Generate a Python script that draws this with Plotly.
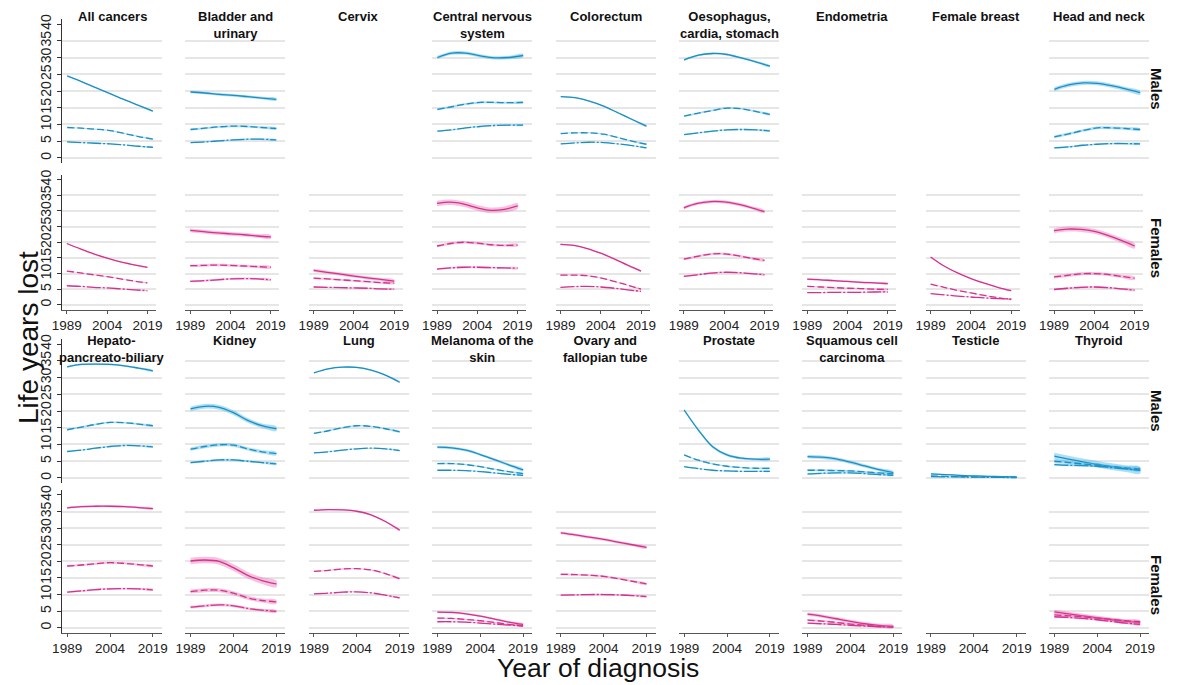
import plotly.graph_objects as go

# ---------------- data ----------------
years = [1989, 1994, 1999, 2004, 2009, 2014, 2019]
x_ticks = [1989, 2004, 2019]
y_ticks = [0, 5, 10, 15, 20, 25, 30, 35, 40]

cancers_top = ["All cancers", "Bladder and\nurinary", "Cervix", "Central nervous\nsystem", "Colorectum",
               "Oesophagus,\ncardia, stomach", "Endometria", "Female breast", "Head and neck"]
cancers_bottom = ["Hepato-\npancreato-biliary", "Kidney", "Lung", "Melanoma of the\nskin",
                  "Ovary and\nfallopian tube", "Prostate", "Squamous cell\ncarcinoma", "Testicle", "Thyroid"]

# Males: solid (top), dashed (middle), dash-dot (bottom) lines
male_solid = {
    "All cancers": [24.5, 22.8, 21.0, 19.2, 17.4, 15.7, 14.0],
    "Bladder and\nurinary": [19.7, 19.4, 19.0, 18.7, 18.3, 17.9, 17.5],
    "Central nervous\nsystem": [30.0, 31.3, 31.3, 30.5, 29.9, 30.0, 30.6],
    "Colorectum": [18.3, 18.0, 17.0, 15.5, 13.5, 11.5, 9.5],
    "Oesophagus,\ncardia, stomach": [29.3, 30.7, 31.2, 30.9, 29.9, 28.7, 27.4],
    "Head and neck": [20.5, 21.8, 22.4, 22.3, 21.6, 20.6, 19.5],
    "Hepato-\npancreato-biliary": [33.2, 33.9, 34.0, 33.9, 33.5, 32.8, 32.0],
    "Kidney": [20.6, 21.4, 21.1, 19.5, 17.2, 15.6, 14.7],
    "Lung": [31.4, 32.6, 33.1, 33.0, 32.2, 30.7, 28.6],
    "Melanoma of the\nskin": [9.2, 9.0, 8.3, 7.0, 5.5, 3.9, 2.4],
    "Prostate": [20.3, 14.3, 9.3, 6.9, 5.9, 5.6, 5.6],
    "Squamous cell\ncarcinoma": [6.4, 6.2, 5.7, 4.7, 3.6, 2.5, 1.6],
    "Testicle": [1.2, 1.0, 0.8, 0.6, 0.5, 0.4, 0.3],
    "Thyroid": [6.5, 5.6, 4.8, 4.1, 3.4, 2.8, 2.3],
}
male_dash = {
    "All cancers": [9.1, 8.9, 8.6, 8.2, 7.3, 6.4, 5.6],
    "Bladder and\nurinary": [8.5, 8.9, 9.3, 9.5, 9.4, 9.1, 8.8],
    "Central nervous\nsystem": [14.5, 15.3, 16.1, 16.6, 16.6, 16.5, 16.6],
    "Colorectum": [7.3, 7.5, 7.5, 7.1, 6.1, 5.0, 4.1],
    "Oesophagus,\ncardia, stomach": [12.5, 13.4, 14.2, 14.9, 14.7, 13.9, 13.0],
    "Head and neck": [6.3, 7.2, 8.2, 9.0, 9.0, 8.8, 8.5],
    "Hepato-\npancreato-biliary": [14.4, 15.2, 16.0, 16.6, 16.5, 16.1, 15.6],
    "Kidney": [8.6, 9.4, 9.9, 9.8, 8.7, 7.8, 7.3],
    "Lung": [13.3, 14.1, 15.0, 15.6, 15.4, 14.7, 13.8],
    "Melanoma of the\nskin": [4.3, 4.3, 4.0, 3.4, 2.6, 1.9, 1.3],
    "Prostate": [6.9, 5.3, 4.2, 3.5, 3.1, 2.9, 2.9],
    "Squamous cell\ncarcinoma": [2.3, 2.3, 2.2, 2.1, 1.8, 1.5, 1.2],
    "Testicle": [0.6, 0.5, 0.4, 0.35, 0.3, 0.25, 0.2],
    "Thyroid": [5.0, 4.6, 4.2, 3.8, 3.4, 3.0, 2.7],
}
male_dot = {
    "All cancers": [4.8, 4.6, 4.4, 4.2, 3.9, 3.5, 3.2],
    "Bladder and\nurinary": [4.6, 4.8, 5.1, 5.4, 5.6, 5.6, 5.4],
    "Central nervous\nsystem": [8.0, 8.4, 9.0, 9.4, 9.7, 9.8, 9.8],
    "Colorectum": [4.2, 4.5, 4.7, 4.6, 4.2, 3.7, 3.0],
    "Oesophagus,\ncardia, stomach": [7.0, 7.5, 8.0, 8.4, 8.5, 8.4, 8.1],
    "Head and neck": [3.0, 3.3, 3.8, 4.1, 4.3, 4.3, 4.2],
    "Hepato-\npancreato-biliary": [7.9, 8.3, 8.9, 9.4, 9.7, 9.6, 9.3],
    "Kidney": [4.6, 5.0, 5.4, 5.4, 5.0, 4.6, 4.2],
    "Lung": [7.5, 7.8, 8.3, 8.7, 8.9, 8.7, 8.2],
    "Melanoma of the\nskin": [2.3, 2.3, 2.2, 1.9, 1.5, 1.1, 0.8],
    "Prostate": [3.4, 2.8, 2.3, 2.1, 2.0, 2.0, 2.0],
    "Squamous cell\ncarcinoma": [1.2, 1.4, 1.5, 1.5, 1.3, 1.0, 0.8],
    "Testicle": [0.4, 0.35, 0.3, 0.25, 0.2, 0.15, 0.1],
    "Thyroid": [4.0, 3.8, 3.7, 3.5, 3.1, 2.7, 2.3],
}
female_solid = {
    "All cancers": [19.6, 17.9, 16.3, 14.9, 13.7, 12.8, 12.0],
    "Bladder and\nurinary": [23.8, 23.4, 23.0, 22.7, 22.4, 22.0, 21.7],
    "Cervix": [11.0, 10.4, 9.8, 9.2, 8.6, 8.1, 7.6],
    "Central nervous\nsystem": [32.4, 32.8, 32.2, 31.0, 30.2, 30.5, 31.6],
    "Colorectum": [19.3, 19.0, 18.0, 16.5, 14.7, 12.7, 10.8],
    "Oesophagus,\ncardia, stomach": [31.0, 32.4, 33.0, 32.9, 32.2, 31.1, 29.8],
    "Endometria": [8.2, 8.0, 7.7, 7.5, 7.2, 7.0, 6.8],
    "Female breast": [15.3, 12.4, 10.2, 8.4, 6.9, 5.6, 4.5],
    "Head and neck": [23.7, 24.2, 24.1, 23.5, 22.2, 20.6, 18.8],
    "Hepato-\npancreato-biliary": [36.1, 36.5, 36.6, 36.6, 36.5, 36.2, 35.9],
    "Kidney": [20.1, 20.4, 20.0, 18.1, 15.8, 14.2, 13.2],
    "Lung": [35.4, 35.6, 35.5, 35.1, 34.0, 32.0, 29.4],
    "Melanoma of the\nskin": [4.7, 4.6, 4.2, 3.5, 2.6, 1.7, 1.0],
    "Ovary and\nfallopian tube": [28.6, 28.0, 27.3, 26.6, 25.8, 25.0, 24.2],
    "Squamous cell\ncarcinoma": [4.1, 3.5, 2.7, 1.9, 1.2, 0.7, 0.4],
    "Thyroid": [4.8, 4.2, 3.6, 3.0, 2.4, 1.9, 1.5],
}
female_dash = {
    "All cancers": [10.8, 10.2, 9.6, 9.0, 8.3, 7.6, 7.0],
    "Bladder and\nurinary": [12.5, 12.6, 12.7, 12.6, 12.4, 12.2, 12.0],
    "Cervix": [8.5, 8.3, 8.0, 7.7, 7.4, 7.1, 6.9],
    "Central nervous\nsystem": [18.8, 19.6, 20.0, 19.7, 19.2, 19.0, 19.1],
    "Colorectum": [9.5, 9.5, 9.3, 8.6, 7.5, 6.3, 5.0],
    "Oesophagus,\ncardia, stomach": [14.6, 15.5, 16.2, 16.3, 15.7, 14.9, 14.2],
    "Endometria": [5.9, 5.7, 5.5, 5.3, 5.2, 5.0, 4.9],
    "Female breast": [6.6, 5.6, 4.6, 3.8, 3.0, 2.3, 1.7],
    "Head and neck": [8.9, 9.4, 9.9, 10.0, 9.7, 9.1, 8.5],
    "Hepato-\npancreato-biliary": [18.6, 18.9, 19.3, 19.6, 19.4, 19.0, 18.6],
    "Kidney": [10.9, 11.3, 11.3, 10.4, 9.0, 8.2, 7.8],
    "Lung": [17.0, 17.3, 17.7, 17.8, 17.4, 16.3, 14.8],
    "Melanoma of the\nskin": [2.9, 2.8, 2.5, 2.1, 1.6, 1.0, 0.6],
    "Ovary and\nfallopian tube": [16.1, 16.0, 15.8, 15.5, 14.8, 14.0, 13.2],
    "Squamous cell\ncarcinoma": [2.3, 2.0, 1.6, 1.1, 0.7, 0.4, 0.2],
    "Thyroid": [3.9, 3.6, 3.3, 2.9, 2.5, 2.1, 1.8],
}
female_dot = {
    "All cancers": [6.1, 5.9, 5.6, 5.4, 5.1, 4.8, 4.5],
    "Bladder and\nurinary": [7.5, 7.7, 8.0, 8.3, 8.4, 8.3, 8.0],
    "Cervix": [5.7, 5.6, 5.5, 5.4, 5.3, 5.1, 5.0],
    "Central nervous\nsystem": [11.4, 11.8, 12.0, 12.0, 11.9, 11.8, 11.7],
    "Colorectum": [5.6, 5.8, 5.9, 5.7, 5.3, 4.8, 4.3],
    "Oesophagus,\ncardia, stomach": [9.1, 9.6, 10.1, 10.4, 10.3, 10.0, 9.6],
    "Endometria": [3.9, 3.9, 4.0, 4.0, 4.0, 4.1, 4.1],
    "Female breast": [3.6, 3.2, 2.8, 2.5, 2.2, 2.0, 1.9],
    "Head and neck": [4.9, 5.3, 5.6, 5.7, 5.5, 5.1, 4.7],
    "Hepato-\npancreato-biliary": [10.7, 11.1, 11.5, 11.7, 11.8, 11.7, 11.4],
    "Kidney": [6.2, 6.6, 6.9, 6.6, 5.8, 5.3, 4.9],
    "Lung": [10.2, 10.4, 10.7, 10.8, 10.5, 9.8, 9.0],
    "Melanoma of the\nskin": [1.8, 1.8, 1.7, 1.4, 1.1, 0.8, 0.5],
    "Ovary and\nfallopian tube": [9.8, 9.9, 10.0, 10.0, 9.9, 9.7, 9.4],
    "Squamous cell\ncarcinoma": [1.4, 1.2, 1.0, 0.7, 0.5, 0.3, 0.2],
    "Thyroid": [3.3, 3.1, 2.8, 2.4, 1.9, 1.4, 1.0],
}
# half-width of the confidence band for [solid, dashed, dash-dot]
male_ci = {
    "All cancers": [0.15, 0.15, 0.12], "Bladder and\nurinary": [0.4, 0.3, 0.2],
    "Central nervous\nsystem": [0.5, 0.3, 0.2], "Colorectum": [0.2, 0.15, 0.1],
    "Oesophagus,\ncardia, stomach": [0.3, 0.25, 0.2], "Head and neck": [0.6, 0.4, 0.25],
    "Hepato-\npancreato-biliary": [0.25, 0.25, 0.2], "Kidney": [0.7, 0.5, 0.3],
    "Lung": [0.2, 0.2, 0.15], "Melanoma of the\nskin": [0.4, 0.2, 0.15],
    "Prostate": [0.4, 0.2, 0.15], "Squamous cell\ncarcinoma": [0.5, 0.3, 0.2],
    "Testicle": [0.2, 0.1, 0.1], "Thyroid": [1.0, 0.5, 0.3],
}
female_ci = {
    "All cancers": [0.15, 0.12, 0.1], "Bladder and\nurinary": [0.6, 0.4, 0.3],
    "Cervix": [0.5, 0.3, 0.2], "Central nervous\nsystem": [0.9, 0.4, 0.3],
    "Colorectum": [0.2, 0.15, 0.12], "Oesophagus,\ncardia, stomach": [0.5, 0.35, 0.25],
    "Endometria": [0.3, 0.2, 0.15], "Female breast": [0.15, 0.12, 0.1],
    "Head and neck": [0.8, 0.5, 0.3], "Hepato-\npancreato-biliary": [0.3, 0.3, 0.25],
    "Kidney": [1.0, 0.6, 0.4], "Lung": [0.2, 0.2, 0.15],
    "Melanoma of the\nskin": [0.3, 0.2, 0.15], "Ovary and\nfallopian tube": [0.4, 0.3, 0.2],
    "Squamous cell\ncarcinoma": [0.5, 0.3, 0.2], "Thyroid": [0.6, 0.4, 0.3],
}

# ---------------- styling / layout ----------------
W, H = 1178, 685
FONT = "Liberation Sans, Arial, sans-serif"
male_line, male_band = "#1b8fc2", "rgba(70,185,232,0.45)"
female_line, female_band = "#d5318e", "rgba(232,110,178,0.42)"
dashes = ["solid", "7px,3px", "14px,2px,2px,2px"]

# rows: (top px, bottom px, width px, sex, group, has x axis, strip label centre px, title top px)
rows = [
    (19, 163, 100, "m", 0, False, 89, 7),
    (175, 309.5, 94, "f", 0, True, 248, None),
    (339, 483, 100, "m", 1, False, 411, 331),
    (490, 632.7, 100, "f", 1, True, 585, None),
]
col_left0, col_step = 62, 123.4
x_range = [1987.2, 2022.2]
y_range = [-1.5, 41.5]

fig = go.Figure()
layout = {}
annotations = []
n = 0
for r, (top, bot, wd, sex, grp, has_x, strip_y, title_top) in enumerate(rows):
    cancers = cancers_top if grp == 0 else cancers_bottom
    sets = (male_solid, male_dash, male_dot, male_ci) if sex == "m" else \
           (female_solid, female_dash, female_dot, female_ci)
    lc, bc = (male_line, male_band) if sex == "m" else (female_line, female_band)
    for c, cancer in enumerate(cancers):
        n += 1
        xa = "x" if n == 1 else f"x{n}"
        ya = "y" if n == 1 else f"y{n}"
        left = col_left0 + c * col_step
        has_data = cancer in sets[0]
        layout["xaxis" if n == 1 else f"xaxis{n}"] = dict(
            domain=[left / W, (left + wd) / W], anchor=ya, range=x_range,
            showgrid=False, zeroline=False, fixedrange=True, automargin=False,
            visible=has_x, showline=has_x, linecolor="#555555", linewidth=1.3,
            ticks="outside" if has_x else "", ticklen=3, tickcolor="#555555",
            tickvals=x_ticks, showticklabels=has_x,
            tickfont=dict(family=FONT, size=13.5, color="#222222"),
        )
        is_first = c == 0
        layout["yaxis" if n == 1 else f"yaxis{n}"] = dict(
            domain=[1 - bot / H, 1 - top / H], anchor=xa, range=y_range,
            showgrid=False, zeroline=False, fixedrange=True, automargin=False,
            visible=True,
            showline=is_first, linecolor="#333333", linewidth=1.3,
            ticks="outside" if is_first else "", ticklen=4, tickcolor="#333333",
            tickvals=y_ticks, showticklabels=is_first, tickangle=-90,
            tickfont=dict(family=FONT, size=14, color="#222222"),
            minor=dict(tickvals=y_ticks[:-1], showgrid=has_data,
                       gridcolor="#e6e6e6", gridwidth=1.5, ticks=""),
        )
        # panel title
        if title_top is not None:
            annotations.append(dict(
                text=cancer.replace("\n", "<br>"), x=(left + wd / 2) / W,
                y=1 - title_top / H, xref="paper", yref="paper",
                xanchor="center", yanchor="top", showarrow=False,
                font=dict(family=FONT, size=13, color="#111111", weight="bold"),
            ))
        if not has_data:
            # empty placeholder so the panel (and its axes) is still created
            fig.add_trace(go.Scatter(x=[], y=[], xaxis=xa, yaxis=ya, mode="lines",
                                     showlegend=False, hoverinfo="skip"))
            continue
        for k in range(3):
            vals = sets[k][cancer]
            hw = sets[3][cancer][k]
            hi = [v + hw for v in vals]
            lo = [max(v - hw, 0) for v in vals]
            fig.add_trace(go.Scatter(
                x=years + years[::-1], y=hi + lo[::-1], xaxis=xa, yaxis=ya,
                mode="lines", fill="toself", fillcolor=bc,
                line=dict(width=0, shape="spline", smoothing=1.0),
                hoverinfo="skip", showlegend=False,
            ))
            fig.add_trace(go.Scatter(
                x=years, y=vals, xaxis=xa, yaxis=ya, mode="lines",
                line=dict(color=lc, width=1.3, dash=dashes[k], shape="spline", smoothing=1.0),
                showlegend=False,
            ))
    # row strip label
    annotations.append(dict(
        text="Males" if sex == "m" else "Females", x=1157 / W, y=1 - strip_y / H,
        xref="paper", yref="paper", xanchor="center", yanchor="middle",
        textangle=90, showarrow=False,
        font=dict(family=FONT, size=15, color="#111111", weight="bold"),
    ))

annotations.append(dict(text="Life years lost", x=28 / W, y=1 - 338 / H, xref="paper", yref="paper",
                        textangle=-90, showarrow=False, xanchor="center", yanchor="middle",
                        font=dict(family=FONT, size=28, color="#111111")))
annotations.append(dict(text="Year of diagnosis", x=598 / W, y=0, xref="paper", yref="paper",
                        showarrow=False, xanchor="center", yanchor="bottom",
                        font=dict(family=FONT, size=26.5, color="#111111")))

fig.update_layout(
    width=W, height=H, margin=dict(l=0, r=0, t=0, b=0, autoexpand=False),
    paper_bgcolor="white", plot_bgcolor="white",
    annotations=annotations, **layout,
)
fig.write_html("out.html", config={"displayModeBar": False},
               post_script="document.body.style.margin='0px';document.body.style.padding='0px';")
